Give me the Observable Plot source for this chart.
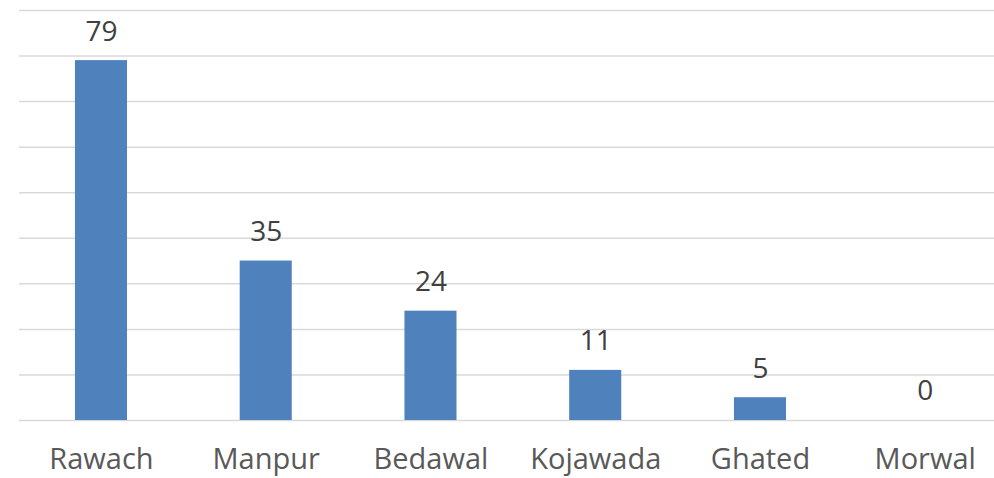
<!DOCTYPE html>
<html>
<head>
<meta charset="utf-8">
<script src="https://cdn.jsdelivr.net/npm/d3@7"></script>
<script src="https://cdn.jsdelivr.net/npm/@observablehq/plot@0.6"></script>
<style>
  html, body { margin: 0; padding: 0; background: #ffffff; }
  #chart svg { display: block; }
</style>
</head>
<body>
<div id="chart"></div>
<script>
const categories = ["Rawach", "Manpur", "Bedawal", "Kojawada", "Ghated", "Morwal"];
const values = [79, 35, 24, 11, 5, 0];
const gridTicks = [0, 10, 20, 30, 40, 50, 60, 70, 80, 90];

const data = categories.map((c, i) => ({category: c, value: values[i]}));

const chart = Plot.plot({
  width: 994,
  height: 478,
  marginTop: 10,
  marginBottom: 58,
  marginLeft: 19,
  marginRight: 0,
  style: {fontFamily: "'Open Sans', sans-serif", background: "#ffffff"},
  x: {domain: categories, range: [18.6, 1007.1], round: false, paddingInner: 0.684, paddingOuter: 0.342, label: null},
  y: {domain: [0, 90], label: null, axis: null},
  marks: [
    Plot.ruleY(gridTicks, {stroke: "#d9d9d9", strokeWidth: 1.5}),
    Plot.barY(data, {x: "category", y: "value", fill: "#4f81bd"}),
    Plot.text(data, {x: "category", y: "value", text: d => String(d.value), dy: -29, lineAnchor: "middle", fontSize: 28, fill: "#404040"}),
    Plot.axisX({tickSize: 0, tickPadding: 28, fontSize: 29, color: "#595959", label: null}),
  ]
});
document.getElementById("chart").appendChild(chart);
</script>
</body>
</html>
